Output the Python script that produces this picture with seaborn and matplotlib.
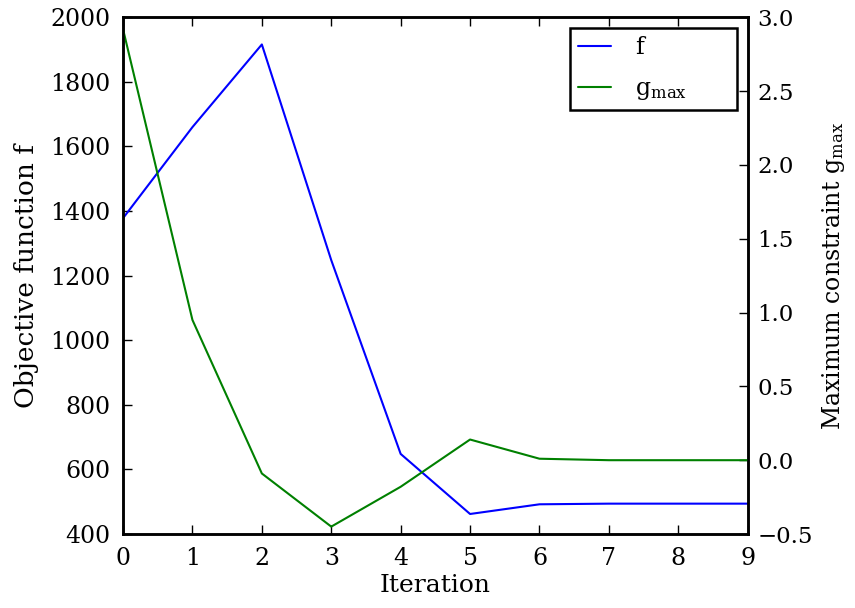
import matplotlib
matplotlib.use('Agg')
import matplotlib.pyplot as plt
import seaborn as sns
import pandas as pd

iteration = [0, 1, 2, 3, 4, 5, 6, 7, 8, 9]
f_values = [1378, 1660, 1916, 1248, 648, 462, 492, 494, 494, 494]
g_max = [2.92, 0.95, -0.09, -0.45, -0.18, 0.14, 0.01, 0.0, 0.0, 0.0]

def main():
    df = pd.DataFrame({'iter': iteration, 'f': f_values, 'g': g_max})

    sns.set_style('ticks')
    plt.rcParams['font.family'] = ['DejaVu Serif']
    plt.rcParams['mathtext.fontset'] = 'dejavuserif'
    plt.rcParams['xtick.direction'] = 'in'
    plt.rcParams['ytick.direction'] = 'in'
    plt.rcParams['text.color'] = 'black'
    plt.rcParams['axes.labelcolor'] = 'black'
    plt.rcParams['xtick.color'] = 'black'
    plt.rcParams['ytick.color'] = 'black'

    fig = plt.figure(figsize = (8.55, 6.08), dpi = 100)
    ax1 = fig.add_axes([0.1439, 0.1217, 0.7306, 0.8498])
    ax2 = ax1.twinx()

    sns.lineplot(data = df, x = 'iter', y = 'f', color = '#0000ff', lw = 1.5, ax = ax1, label = 'f', legend = False)
    sns.lineplot(data = df, x = 'iter', y = 'g', color = '#008000', lw = 1.5, ax = ax2, label = r'$\mathrm{g}_{\mathrm{max}}$', legend = False)

    ax1.set_xlim(0, 9)
    ax1.set_ylim(400, 2000)
    ax2.set_ylim(-0.5, 3.0)
    ax1.set_xticks(iteration)
    ax1.set_yticks(range(400, 2001, 200))
    ax2.set_yticks([-0.5, 0.0, 0.5, 1.0, 1.5, 2.0, 2.5, 3.0])

    ax1.set_xlabel('Iteration', fontsize = 18, labelpad = 3)
    ax1.set_ylabel('Objective function f', fontsize = 19, labelpad = 8)
    ax2.set_ylabel(r'Maximum constraint $\mathrm{g}_{\mathrm{max}}$', fontsize = 17, labelpad = 5)

    ax1.tick_params(axis = 'x', top = True, length = 6.5, width = 1, labelsize = 17, pad = 9)
    ax1.tick_params(axis = 'y', length = 6.5, width = 1, labelsize = 17, pad = 9)
    ax2.tick_params(axis = 'y', length = 6.5, width = 1, labelsize = 16.5, pad = 7)
    for ax in (ax1, ax2):
        for s in ax.spines.values():
            s.set_linewidth(1.8)
            s.set_color('black')

    lines = ax1.get_lines() + ax2.get_lines()
    leg = ax1.legend(lines, [l.get_label() for l in lines], loc = 'upper left', fontsize = 17,
                     fancybox = False, framealpha = 1, edgecolor = 'black',
                     borderpad = 0.35, labelspacing = 0.75, handlelength = 1.4, handletextpad = 1.0,
                     borderaxespad = 0, mode = 'expand',
                     bbox_to_anchor = (0.7155, 0.5, 0.2674, 0.479))
    leg.get_frame().set_linewidth(1.8)

    fig.savefig('out.png', dpi = 100)

if __name__ == '__main__':
    main()
